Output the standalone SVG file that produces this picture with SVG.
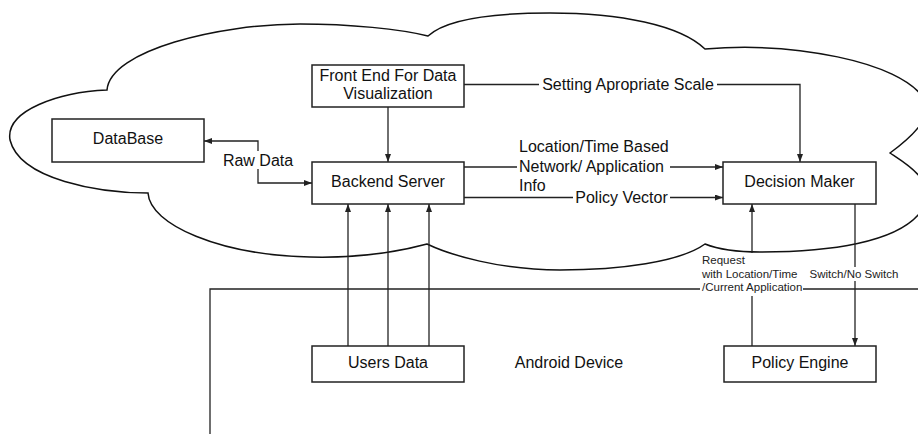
<svg xmlns="http://www.w3.org/2000/svg" width="918" height="434" viewBox="0 0 918 434">
<style>
  .box{fill:#fff;stroke:#222;stroke-width:1.5}
  .t{font-family:"Liberation Sans",Arial,sans-serif;font-size:16px;fill:#111;text-anchor:middle}
  .s{font-family:"Liberation Sans",Arial,sans-serif;font-size:11.5px;fill:#222}
  .c{fill:none;stroke:#222;stroke-width:1.3}
  .outline{fill:none;stroke:#111;stroke-width:1.5}
  .bg{fill:#fff}
</style>
<defs>
  <marker id="arr" viewBox="0 0 8 6" refX="8" refY="3" markerWidth="8" markerHeight="6" markerUnits="userSpaceOnUse" orient="auto-start-reverse">
    <path d="M0,0 L8,3 L0,6 z" fill="#222"/>
  </marker>
</defs>
<rect width="918" height="434" fill="#fff"/>

<g id="android-device">
  <path class="c" d="M210,434 V289 H918"/>
  <text class="t" x="569" y="367.5">Android Device</text>
</g>

<g id="cloud">
  <path class="outline" d="M107,90 C110,50 220,24 300,24 C350,24 400,29 428,36 C445,20 490,13 550,13 C620,13 680,25 705,49 C790,42 900,60 925,100 C935,118 905,142 890,153 C905,163 935,180 925,205 C905,245 820,252 760,252 C735,252 715,248 705,244 C680,262 620,270 560,270 C500,270 450,255 427,244 C390,254 350,258 310,257 C220,255 150,225 148,193 C100,193 20,180 10,140 C5,110 60,92 107,90 Z"/>
</g>

<g id="connectors">
  <path class="c" d="M388,107 V162" marker-end="url(#arr)"/>
  <path class="c" d="M464,84.5 H800 V162" marker-end="url(#arr)"/>
  <path class="c" d="M312,183 H258 V141 H204" marker-start="url(#arr)" marker-end="url(#arr)"/>
  <path class="c" d="M464,167 H723" marker-end="url(#arr)"/>
  <path class="c" d="M464,197.5 H723" marker-end="url(#arr)"/>
  <path class="c" d="M348,346 V204" marker-end="url(#arr)"/>
  <path class="c" d="M388,346 V204" marker-end="url(#arr)"/>
  <path class="c" d="M429,346 V204" marker-end="url(#arr)"/>
  <path class="c" d="M752,346 V204" marker-end="url(#arr)"/>
  <path class="c" d="M855,204 V346" marker-end="url(#arr)"/>

  <rect class="bg" x="539" y="76" width="178" height="18"/>
  <text class="t" x="628" y="90">Setting Apropriate Scale</text>
  <rect class="bg" x="224" y="151" width="68" height="18"/>
  <text class="t" x="258" y="165.5">Raw Data</text>
  <rect class="bg" x="517" y="138" width="153" height="56"/>
  <text class="t" style="text-anchor:start" x="519" y="151.5">Location/Time Based</text>
  <text class="t" style="text-anchor:start" x="519" y="171.5">Network/ Application</text>
  <text class="t" style="text-anchor:start" x="519" y="190.5">Info</text>
  <rect class="bg" x="573" y="189" width="97" height="17"/>
  <text class="t" x="621.5" y="202.5">Policy Vector</text>
  <rect class="bg" x="700" y="253" width="103" height="43"/>
  <text class="s" x="702" y="264">Request</text>
  <text class="s" x="702" y="277.5">with Location/Time</text>
  <text class="s" x="702" y="291">/Current Application</text>
  <rect class="bg" x="806" y="267" width="96" height="14"/>
  <text class="s" style="text-anchor:middle" x="854" y="277.5">Switch/No Switch</text>
</g>

<g id="database">
  <rect class="box" x="52" y="119" width="152" height="43"/>
  <text class="t" x="128" y="144">DataBase</text>
</g>
<g id="front-end">
  <rect class="box" x="312" y="65" width="152" height="42"/>
  <text class="t" x="388" y="80.5">Front End For Data</text>
  <text class="t" x="388" y="99">Visualization</text>
</g>
<g id="backend-server">
  <rect class="box" x="312" y="162" width="152" height="42"/>
  <text class="t" x="388" y="187">Backend Server</text>
</g>
<g id="decision-maker">
  <rect class="box" x="723" y="162" width="153" height="42"/>
  <text class="t" x="799.5" y="186.5">Decision Maker</text>
</g>
<g id="users-data">
  <rect class="box" x="312" y="346" width="152" height="36"/>
  <text class="t" x="388" y="368">Users Data</text>
</g>
<g id="policy-engine">
  <rect class="box" x="724" y="346" width="152" height="36"/>
  <text class="t" x="800" y="367.5">Policy Engine</text>
</g>
</svg>
